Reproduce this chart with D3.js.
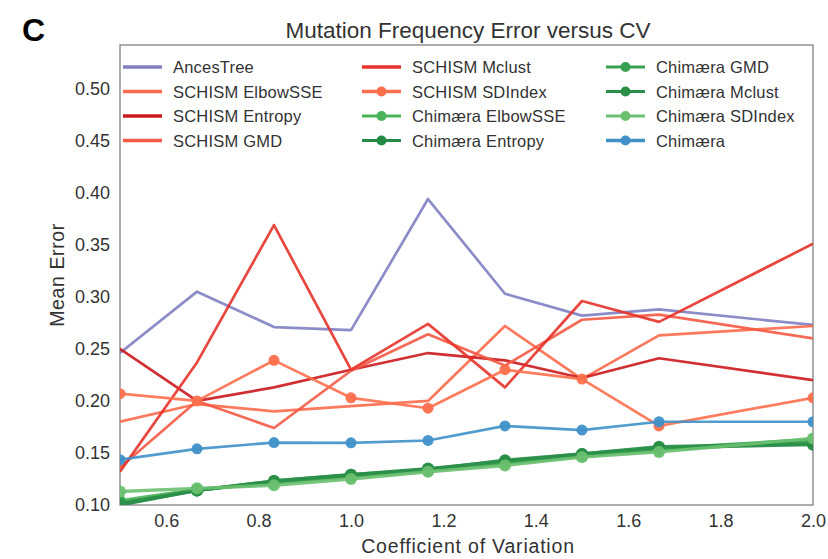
<!DOCTYPE html>
<html>
<head>
<meta charset="utf-8">
<script src="https://cdnjs.cloudflare.com/ajax/libs/d3/7.8.5/d3.min.js"></script>
<style>
  body { margin: 0; background: #fff; }
  svg { display: block; font-family: "Liberation Sans", Arial, sans-serif; }
</style>
</head>
<body>
<script>
// x values (coefficient of variation)
let cv = [0.5, 0.6667, 0.8333, 1.0, 1.1667, 1.3333, 1.5, 1.6667, 2.0];

let ancesTree      = [0.246, 0.305, 0.271, 0.268, 0.394, 0.303, 0.282, 0.288, 0.273];
let schismElbow    = [0.180, 0.197, 0.190, 0.195, 0.200, 0.272, 0.221, 0.263, 0.272];
let schismEntropy  = [0.250, 0.200, 0.213, 0.230, 0.246, 0.239, 0.222, 0.241, 0.220];
let schismGMD      = [0.136, 0.200, 0.174, 0.229, 0.264, 0.234, 0.278, 0.283, 0.260];
let schismMclust   = [0.132, 0.237, 0.369, 0.230, 0.274, 0.213, 0.296, 0.276, 0.351];
let schismSDIndex  = [0.207, 0.200, 0.239, 0.203, 0.193, 0.230, 0.221, 0.176, 0.203];
let chimElbow      = [0.104, 0.115, 0.121, 0.127, 0.133, 0.140, 0.147, 0.153, 0.161];
let chimEntropy    = [0.100, 0.114, 0.123, 0.129, 0.135, 0.142, 0.149, 0.155, 0.158];
let chimGMD        = [0.102, 0.114, 0.122, 0.128, 0.134, 0.141, 0.148, 0.154, 0.163];
let chimMclust     = [0.101, 0.114, 0.123, 0.129, 0.134, 0.143, 0.149, 0.156, 0.159];
let chimSDIndex    = [0.113, 0.116, 0.119, 0.125, 0.132, 0.138, 0.146, 0.151, 0.164];
let chimaera       = [0.1435, 0.154, 0.160, 0.1597, 0.162, 0.176, 0.172, 0.180, 0.180];

let names = ["AncesTree", "SCHISM ElbowSSE", "SCHISM Entropy", "SCHISM GMD",
             "SCHISM Mclust", "SCHISM SDIndex", "Chimæra ElbowSSE", "Chimæra Entropy",
             "Chimæra GMD", "Chimæra Mclust", "Chimæra SDIndex", "Chimæra"];
let values = [ancesTree, schismElbow, schismEntropy, schismGMD, schismMclust, schismSDIndex,
              chimElbow, chimEntropy, chimGMD, chimMclust, chimSDIndex, chimaera];
let hasDots = [false, false, false, false, false, true, true, true, true, true, true, true];

let xTicks = [0.6, 0.8, 1.0, 1.2, 1.4, 1.6, 1.8, 2.0];
let yTicks = [0.10, 0.15, 0.20, 0.25, 0.30, 0.35, 0.40, 0.45, 0.50];

// styles
let colors = ["#7f7fc2", "#fb6a4a", "#cb181d", "#f45a45", "#e6332a", "#fd6f4c",
              "#4bb35a", "#238b45", "#37a152", "#2a8f48", "#6cc070", "#3f91c8"];

let W = 828, H = 559;
let svg = d3.select("body").append("svg").attr("width", W).attr("height", H);
let plot = { left: 120, right: 813, top: 45, bottom: 505 };

let scaleX = d3.scaleLinear().domain([0.5, 2.0]).range([plot.left, plot.right]);
let scaleY = d3.scaleLinear().domain([0.10, 0.542]).range([plot.bottom, plot.top]);

let DrawText = () =>
{
  svg.append("text").text("C")
    .attr("x", 22).attr("y", 41)
    .attr("font-size", 32).attr("font-weight", "bold").attr("fill", "#000");
  svg.append("text").text("Mutation Frequency Error versus CV")
    .attr("x", 468).attr("y", 38)
    .attr("text-anchor", "middle").attr("font-size", 22.5).attr("fill", "#333");
  svg.append("text").text("Coefficient of Variation")
    .attr("x", 468).attr("y", 553)
    .attr("text-anchor", "middle").attr("font-size", 19.5)
    .attr("letter-spacing", 0.8).attr("fill", "#333");
  svg.append("text").text("Mean Error")
    .attr("transform", "translate(64," + ((plot.top + plot.bottom) / 2) + ") rotate(-90)")
    .attr("text-anchor", "middle").attr("font-size", 19.5)
    .attr("letter-spacing", 0.6).attr("fill", "#333");
}

let DrawAxis = () =>
{
  let gx = svg.append("g")
    .attr("transform", "translate(0," + plot.bottom + ")")
    .call(d3.axisBottom(scaleX).tickValues(xTicks).tickFormat(d3.format(".1f")).tickSize(0).tickPadding(9));
  let gy = svg.append("g")
    .attr("transform", "translate(" + plot.left + ",0)")
    .call(d3.axisLeft(scaleY).tickValues(yTicks).tickFormat(d3.format(".2f")).tickSize(0).tickPadding(10));
  [gx, gy].forEach(g =>
  {
    g.select(".domain").remove();
    g.selectAll("text").attr("font-size", 18).attr("fill", "#333")
      .attr("font-family", "Liberation Sans, Arial, sans-serif");
  });
  svg.append("rect")
    .attr("x", plot.left).attr("y", plot.top)
    .attr("width", plot.right - plot.left).attr("height", plot.bottom - plot.top)
    .attr("fill", "none").attr("stroke", "#777").attr("stroke-width", 1.2);
}

let DrawLines = () =>
{
  svg.append("clipPath").attr("id", "clip").append("rect")
    .attr("x", plot.left).attr("y", plot.top)
    .attr("width", plot.right - plot.left).attr("height", plot.bottom - plot.top);
  let g = svg.append("g").attr("clip-path", "url(#clip)");
  let line = d3.line().x((d, i) => scaleX(cv[i])).y(d => scaleY(d));
  values.forEach((vals, k) =>
  {
    let green = k >= 6 && k <= 10;
    g.append("path")
      .attr("d", line(vals))
      .attr("fill", "none")
      .attr("stroke", colors[k])
      .attr("stroke-width", green ? 3.4 : 2.7)
      .attr("stroke-opacity", 0.9)
      .attr("stroke-linejoin", "round");
    if (hasDots[k])
    {
      g.selectAll(".dot" + k).data(vals).enter().append("circle")
        .attr("cx", (d, i) => scaleX(cv[i]))
        .attr("cy", d => scaleY(d))
        .attr("r", green ? 6 : 5.5)
        .attr("fill", colors[k])
        .attr("fill-opacity", 0.95);
    }
  });
}

let DrawLegend = () =>
{
  let colX = [123, 362, 606];
  let rowY = [67, 91.5, 116, 140.5];
  names.forEach((name, k) =>
  {
    let c = Math.floor(k / 4), r = k % 4;
    let g = svg.append("g").attr("transform", "translate(" + colX[c] + "," + rowY[r] + ")");
    g.append("line").attr("x1", 0).attr("x2", 39).attr("y1", 0).attr("y2", 0)
      .attr("stroke", colors[k]).attr("stroke-width", k >= 6 && k <= 10 ? 3.2 : 3.4);
    if (hasDots[k])
      g.append("circle").attr("cx", 19.5).attr("cy", 0).attr("r", 5).attr("fill", colors[k]);
    g.append("text").text(name)
      .attr("x", 50).attr("y", 6)
      .attr("font-size", 16.5).attr("letter-spacing", 0.2).attr("fill", "#333");
  });
}

DrawText();
DrawAxis();
DrawLines();
DrawLegend();
</script>
</body>
</html>
